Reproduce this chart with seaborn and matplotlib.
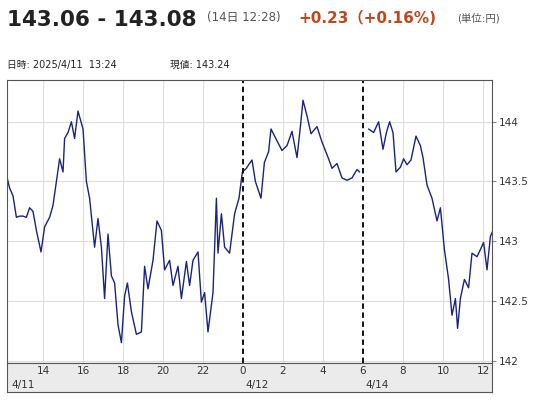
import numpy as np
import matplotlib
matplotlib.use("Agg")
import matplotlib.pyplot as plt
import seaborn as sns
import pandas as pd

sns.set_style("white")
plt.rcParams['font.family'] = ['DejaVu Sans', 'Noto Sans CJK JP']

# hours on a continuous axis (4/11 0:00 = 0; 4/14 6:00 placed at 30)
hours_a = [12.17,12.33,12.5,12.67,12.83,13.0,13.17,13.33,13.5,13.67,13.9,14.08,14.33,14.5,14.67,14.83,15.0,15.08,15.25,15.42,15.58,15.75,16.0,16.17,16.33,16.58,16.75,16.92,17.08,17.25,17.42,17.58,17.75,17.92,18.08,18.22,18.42,18.67,18.92,19.08,19.25,19.5,19.7,19.92,20.08,20.33,20.5,20.75,20.92,21.17,21.33,21.5,21.75,21.92,22.08,22.25,22.5,22.67,22.75,22.92,23.08,23.33,23.58,23.8,23.97,24.17,
           24.2,24.45,24.62,24.9,25.07,25.28,25.4,25.7,25.95,26.2,26.45,26.7,26.87,27.0,27.2,27.4,27.7,27.95,28.28,28.45,28.7,28.95,29.2,29.45,29.7,29.83]
price_a = [143.555,143.445,143.38,143.2,143.21,143.21,143.2,143.28,143.25,143.09,142.91,143.12,143.2,143.3,143.5,143.69,143.58,143.86,143.91,144.0,143.86,144.09,143.94,143.5,143.36,142.95,143.19,142.95,142.52,143.06,142.71,142.65,142.3,142.15,142.54,142.65,142.41,142.22,142.24,142.79,142.6,142.84,143.17,143.09,142.76,142.84,142.63,142.79,142.52,142.83,142.63,142.84,142.91,142.49,142.57,142.24,142.57,143.36,142.9,143.23,142.95,142.9,143.23,143.36,143.58,143.61,
           143.62,143.68,143.5,143.36,143.66,143.75,143.94,143.84,143.76,143.8,143.92,143.7,143.96,144.18,144.05,143.9,143.96,143.83,143.69,143.61,143.65,143.53,143.51,143.53,143.6,143.58]
hours_b = [30.28,30.53,30.78,31.0,31.17,31.33,31.5,31.65,31.87,32.03,32.2,32.4,32.65,32.87,33.0,33.2,33.45,33.7,33.87,34.07,34.28,34.45,34.62,34.73,34.87,35.07,35.28,35.45,35.7,35.87,36.03,36.2,36.37,36.5]
price_b = [143.94,143.91,144.0,143.77,143.91,144.0,143.91,143.58,143.62,143.69,143.64,143.68,143.88,143.8,143.7,143.47,143.36,143.17,143.28,142.93,142.68,142.38,142.52,142.27,142.52,142.68,142.61,142.9,142.87,142.93,142.99,142.76,143.04,143.09]

tick_pos = [14,16,18,20,22,24,26,28,30,32,34,36]
tick_lab = ["14","16","18","20","22","0","2","4","6","8","10","12"]
day_pos = [12.3, 24.0, 30.0]
day_lab = ["4/11", "4/12", "4/14"]
y_ticks = [142, 142.5, 143, 143.5, 144]
y_labs = ["142", "142.5", "143", "143.5", "144"]

df_a = pd.DataFrame({"h": hours_a, "p": price_a})
df_b = pd.DataFrame({"h": hours_b, "p": price_b})

W, H = 538, 400
fig = plt.figure(figsize=(W/100, H/100), dpi=100)
ax = fig.add_axes([7/W, 1-363/H, 485/W, 283/H])
sns.lineplot(data=df_a, x="h", y="p", ax=ax, color="#1a237e", lw=1.0)
sns.lineplot(data=df_b, x="h", y="p", ax=ax, color="#1a237e", lw=1.0)
ax.set_xlim(12.2, 36.45)
ax.set_ylim(141.98, 144.35)
for x in tick_pos:
    if x in (24, 30):
        ax.axvline(x, color="black", ls=(0, (3, 2)), lw=1.3)
    else:
        ax.axvline(x, color="#dddddd", lw=0.8, zorder=0)
for y in y_ticks:
    ax.axhline(y, color="#dddddd", lw=0.8, zorder=0)
ax.set_xticks([])
ax.yaxis.tick_right()
ax.set_yticks(y_ticks)
ax.set_yticklabels(y_labs, fontsize=7.5, color="#333333")
ax.tick_params(axis="y", length=3, pad=2, color="#888888")
ax.set_xlabel(""); ax.set_ylabel("")
for s in ax.spines.values():
    s.set_color("#555555"); s.set_linewidth(0.8)

ax2 = fig.add_axes([7/W, 1-392/H, 485/W, 29/H])
ax2.set_facecolor("#ebebeb")
ax2.set_xlim(12.2, 36.45); ax2.set_ylim(0, 1)
ax2.set_xticks([]); ax2.set_yticks([])
for s in ax2.spines.values():
    s.set_color("#555555"); s.set_linewidth(0.8)
for x, l in zip(tick_pos, tick_lab):
    ax2.text(x, 0.72, l, ha="center", va="center", fontsize=7.5, color="#333333")
for x, l in zip(day_pos, day_lab):
    ax2.text(x + 0.1, 0.25, l, ha="left", va="center", fontsize=7.5, color="#333333")

fig.text(7/W, 1-20/H, "143.06 - 143.08", fontsize=15.5, fontweight="bold", color="#222222", va="center")
fig.text(207/W, 1-18/H, "(14日 12:28)", fontsize=8.5, color="#555555", va="center")
fig.text(298/W, 1-18/H, "+0.23（+0.16%)", fontsize=11, fontweight="bold", color="#c0461c", va="center")
fig.text(457/W, 1-18/H, "(単位:円)", fontsize=7.5, color="#555555", va="center")
fig.text(7/W, 1-65/H, "日時: 2025/4/11  13:24", fontsize=7, color="#222222", va="center")
fig.text(170/W, 1-65/H, "現値: 143.24", fontsize=7, color="#222222", va="center")

fig.savefig("out.png", dpi=100)
